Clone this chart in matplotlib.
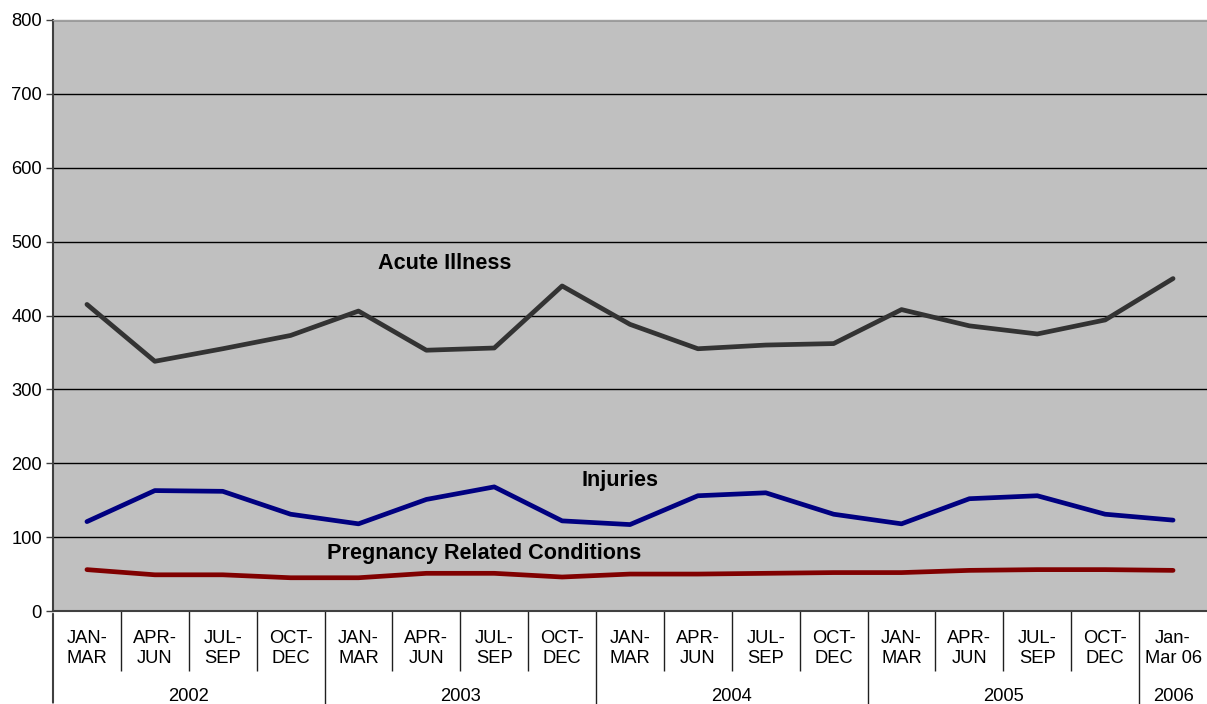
"""
Quarterly counts by condition group, 2002 - Q1 2006.

Three series (acute illness, injuries, pregnancy related conditions) drawn as
thick lines on a grey plot area with a two-level category axis (quarter / year).
"""

import matplotlib

matplotlib.use("Agg")
import matplotlib.pyplot as plt

# data
QUARTERS = [
    "JAN-\nMAR", "APR-\nJUN", "JUL-\nSEP", "OCT-\nDEC",
    "JAN-\nMAR", "APR-\nJUN", "JUL-\nSEP", "OCT-\nDEC",
    "JAN-\nMAR", "APR-\nJUN", "JUL-\nSEP", "OCT-\nDEC",
    "JAN-\nMAR", "APR-\nJUN", "JUL-\nSEP", "OCT-\nDEC",
    "Jan-\nMar 06",
]
YEARS = ["2002", "2003", "2004", "2005", "2006"]
QUARTERS_PER_YEAR = [4, 4, 4, 4, 1]

ACUTE_ILLNESS = [415, 338, 355, 373, 406, 353, 356, 440, 388, 355, 360, 362, 408, 386, 375, 394, 450]
INJURIES = [121, 163, 162, 131, 118, 151, 168, 122, 117, 156, 160, 131, 118, 152, 156, 131, 123]
PREGNANCY = [56, 49, 49, 45, 45, 51, 51, 46, 50, 50, 51, 52, 52, 55, 56, 56, 55]

Y_TICKS = [0, 100, 200, 300, 400, 500, 600, 700, 800]

# styles
COLOR_PLOT_BG = "#c0c0c0"
COLOR_AXIS = "#404040"
COLOR_ACUTE = "#333333"
COLOR_INJURY = "#000080"
COLOR_PREGNANCY = "#800000"
FONT = ["Liberation Sans", "DejaVu Sans"]
TICK_SIZE = 13.2
LABEL_SIZE = 15.6

W_PX, H_PX = 1207, 704
LEFT_PX, RIGHT_PX, TOP_PX, BOTTOM_PX = 53, 1207, 20, 611


def draw_series(ax):
    x = range(len(QUARTERS))
    ax.plot(x, ACUTE_ILLNESS, color=COLOR_ACUTE, lw=3.4, solid_capstyle="round", clip_on=False)
    ax.plot(x, INJURIES, color=COLOR_INJURY, lw=3.4, solid_capstyle="round", clip_on=False)
    ax.plot(x, PREGNANCY, color=COLOR_PREGNANCY, lw=3.4, solid_capstyle="round", clip_on=False)

    label_kw = dict(ha="center", va="center", fontsize=LABEL_SIZE, fontweight="bold", family=FONT)
    ax.text(5.27, 470, "Acute Illness", **label_kw)
    ax.text(7.85, 176, "Injuries", **label_kw)
    ax.text(5.85, 78, "Pregnancy Related Conditions", **label_kw)


def draw_category_axis(ax):
    """Two-level x axis: quarter labels in boxes, then year groups below."""
    n = len(QUARTERS)
    ax.set_xlim(-0.5, n - 0.5)

    year_edges = [-0.5]
    for count in QUARTERS_PER_YEAR:
        year_edges.append(year_edges[-1] + count)

    # short separators between quarters, long ones between years
    inner = [i + 0.5 for i in range(n - 1) if (i + 0.5) not in year_edges]
    ax.set_xticks(inner)
    ax.set_xticklabels([])
    ax.tick_params(axis="x", which="major", length=43.5, width=1, color="#202020", direction="out")
    ax.set_xticks(year_edges[1:-1], minor=True)
    ax.tick_params(axis="x", which="minor", length=68, width=1, color="#202020", direction="out")

    for i, label in enumerate(QUARTERS):
        ax.annotate(label, xy=(i, 0), xycoords=("data", "axes fraction"),
                    xytext=(0, -27), textcoords="offset points",
                    ha="center", va="center", fontsize=TICK_SIZE, family=FONT,
                    linespacing=1.22)

    for j, year in enumerate(YEARS):
        mid = (year_edges[j] + year_edges[j + 1]) / 2
        ax.annotate(year, xy=(mid, 0), xycoords=("data", "axes fraction"),
                    xytext=(0, -61.5), textcoords="offset points",
                    ha="center", va="center", fontsize=TICK_SIZE, family=FONT)

    # the left spine continues down through both label rows
    ax.annotate("", xy=(0, 0), xycoords="axes fraction",
                xytext=(0, -68), textcoords="offset points",
                arrowprops=dict(arrowstyle="-", color=COLOR_AXIS, lw=1.5))


def style_axes(ax):
    ax.set_facecolor(COLOR_PLOT_BG)
    ax.set_ylim(0, 800)
    ax.set_yticks(Y_TICKS)
    ax.set_yticklabels([str(v) for v in Y_TICKS], fontsize=TICK_SIZE, family=FONT)
    ax.tick_params(axis="y", length=5, width=1, color=COLOR_AXIS, pad=3)

    ax.yaxis.grid(True, color="black", lw=1)
    ax.set_axisbelow(True)

    for side in ("left", "bottom"):
        ax.spines[side].set_color(COLOR_AXIS)
        ax.spines[side].set_linewidth(1.5)
    ax.spines["top"].set_color("#a0a0a0")
    ax.spines["top"].set_linewidth(1)
    ax.spines["right"].set_visible(False)


def main():
    fig = plt.figure(figsize=(W_PX / 100, H_PX / 100), dpi=100, facecolor="white")
    ax = fig.add_axes([
        LEFT_PX / W_PX,
        1 - BOTTOM_PX / H_PX,
        (RIGHT_PX - LEFT_PX) / W_PX,
        (BOTTOM_PX - TOP_PX) / H_PX,
    ])

    style_axes(ax)
    draw_series(ax)
    draw_category_axis(ax)

    fig.savefig("out.png", dpi=100, facecolor="white")


if __name__ == "__main__":
    main()
